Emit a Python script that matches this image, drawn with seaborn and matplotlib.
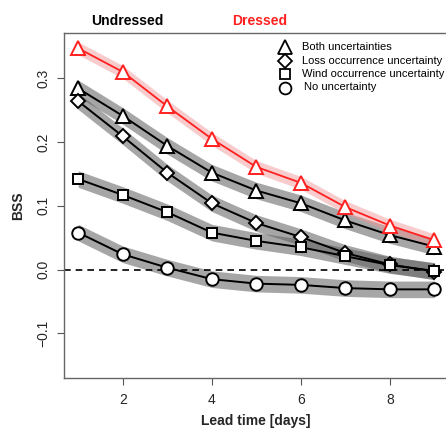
import numpy as np
import pandas as pd
import matplotlib
matplotlib.use("Agg")
import matplotlib.pyplot as plt
import seaborn as sns

lead_days = [1, 2, 3, 4, 5, 6, 7, 8, 9]

bss_dressed_both = [0.347, 0.310, 0.256, 0.205, 0.161, 0.136, 0.098, 0.069, 0.046]
bss_both = [0.284, 0.241, 0.194, 0.152, 0.124, 0.104, 0.077, 0.054, 0.036]
bss_loss = [0.264, 0.209, 0.152, 0.104, 0.073, 0.051, 0.026, 0.008, -0.003]
bss_wind = [0.142, 0.117, 0.090, 0.058, 0.045, 0.035, 0.021, 0.007, -0.002]
bss_none = [0.058, 0.024, 0.003, -0.015, -0.022, -0.024, -0.029, -0.031, -0.031]

# half-width of the uncertainty band around each curve
band_undressed = 0.013
band_dressed = 0.010

legend_labels = ["Both uncertainties", "Loss occurrence uncertainty",
                 "Wind occurrence uncertainty", "No uncertainty"]
yticks = [-0.1, 0.0, 0.1, 0.2, 0.3]
xticks = [2, 4, 6, 8]

sns.set_style("ticks")
plt.rcParams["font.family"] = ["Liberation Sans", "DejaVu Sans"]

fig = plt.figure(figsize=(4.46, 4.30), dpi=100)
ax = fig.add_axes([64 / 446, 52 / 430, (448.7 - 64) / 446, (378 - 33) / 430])

x = np.array(lead_days)

undressed = [
    (bss_both, "^", 10.5),
    (bss_loss, "D", 7.5),
    (bss_wind, "s", 7.5),
    (bss_none, "o", 9),
]

# shaded bands first
for vals, _, _ in undressed:
    v = np.array(vals)
    ax.fill_between(x, v - band_undressed, v + band_undressed,
                    color="#5e5e5e", alpha=0.55, linewidth=0, zorder=1)
vd = np.array(bss_dressed_both)
ax.fill_between(x, vd - band_dressed, vd + band_dressed,
                color="#f39a9a", alpha=0.5, linewidth=0, zorder=1)

ax.axhline(0, color="black", linestyle=(0, (4, 3)), linewidth=1.2, zorder=2)

for vals, mk, ms in undressed:
    df = pd.DataFrame({"lead": lead_days, "bss": vals})
    sns.lineplot(data=df, x="lead", y="bss", ax=ax, color="black",
                 linewidth=1.4, marker=mk, markersize=ms,
                 markerfacecolor="white", markeredgecolor="black",
                 markeredgewidth=1.4, zorder=3)

df_d = pd.DataFrame({"lead": lead_days, "bss": bss_dressed_both})
sns.lineplot(data=df_d, x="lead", y="bss", ax=ax, color="#ff2020",
             linewidth=1.3, marker="^", markersize=10.5,
             markerfacecolor="white", markeredgecolor="#ff2020",
             markeredgewidth=1.4, zorder=4)

ax.set_xlim(0.68, 9.32)
ax.set_ylim(-0.17, 0.371)
ax.set_xticks(xticks)
ax.set_xticklabels([str(t) for t in xticks])
ax.set_yticks(yticks)
ax.set_yticklabels(["\u22120.1", "0.0", "0.1", "0.2", "0.3"],
                   rotation=90, va="center")
ax.tick_params(axis="both", labelsize=10, length=5, width=0.8,
               color="#555555")
ax.tick_params(axis="x", pad=5.5)
ax.tick_params(axis="y", pad=5)
for s in ax.spines.values():
    s.set_color("#666666")
    s.set_linewidth(1.0)

ax.set_xlabel("")
ax.set_ylabel("BSS", fontsize=10, fontweight="bold", labelpad=8)
fig.text(256 / 446, 1 - 421 / 430, "Lead time [days]", ha="center",
         va="center", fontsize=10, fontweight="bold")

fig.text(127 / 446, 1 - 21 / 430, "Undressed", ha="center", va="center",
         fontsize=10, fontweight="bold", color="black")
fig.text(260 / 446, 1 - 21 / 430, "Dressed", ha="center", va="center",
         fontsize=10, fontweight="bold", color="#ff2020")

# marker legend
leg_markers = [("^", 9.5), ("D", 7), ("s", 7), ("o", 8.5)]
for i, ((mk, ms), lab) in enumerate(zip(leg_markers, legend_labels)):
    ypos = 1 - (47 + i * 13.5) / 430
    fig.lines.append(plt.Line2D([285 / 446], [ypos], marker=mk, markersize=ms,
                                markerfacecolor="white", markeredgecolor="black",
                                markeredgewidth=1.3, linestyle="none",
                                transform=fig.transFigure))
    fig.text((302 if i < 3 else 304) / 446, ypos, lab, ha="left", va="center",
             fontsize=8.0, color="black")

fig.savefig("out.png", dpi=100)
